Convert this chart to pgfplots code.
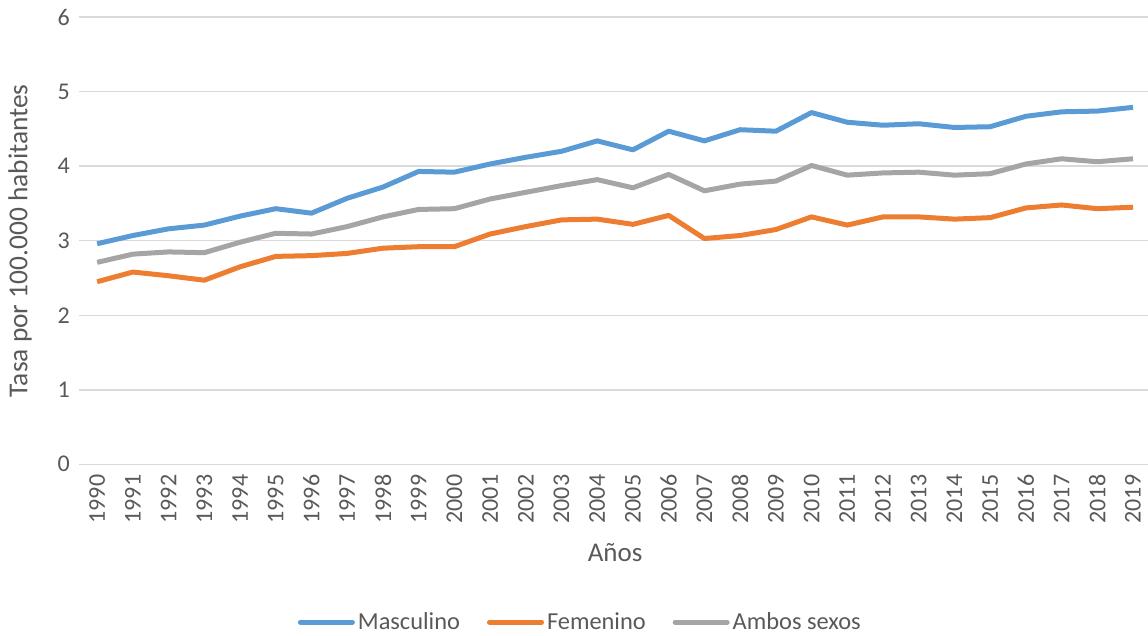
\documentclass[border=0pt]{standalone}
\usepackage{fontspec}
\setmainfont{Carlito}
\usepackage{pgfplots}
\pgfplotsset{compat=1.18}
\definecolor{cBlue}{HTML}{5B9BD5}
\definecolor{cOrange}{HTML}{ED7D31}
\definecolor{cGray}{HTML}{A5A5A5}
\definecolor{cText}{HTML}{595959}
\definecolor{cGrid}{HTML}{D9D9D9}
\begin{document}
\begin{tikzpicture}
\begin{axis}[
  name=ax,
  at={(0,0)}, anchor=south west,
  scale only axis,
  width=535.8pt, height=223.56pt,
  xmin=1989.5, xmax=2019.5,
  ymin=0, ymax=6,
  xtick={1990,1991,...,2019},
  ytick={0,1,...,6},
  xticklabel style={rotate=90, anchor=east, inner sep=0pt, font=\fontsize{12pt}{14pt}\selectfont, text=cText},
  yticklabel style={anchor=east, inner sep=0pt, font=\fontsize{12pt}{14pt}\selectfont, text=cText},
  xticklabel shift=5pt,
  yticklabel shift=4.5pt,
  /pgf/number format/assume math mode=true,
  /pgf/number format/set thousands separator={},
  major tick length=0pt,
  axis line style={draw=none},
  ymajorgrids,
  grid style={cGrid, line width=0.75pt},
  xlabel={Años},
  ylabel={Tasa por 100.000 habitantes},
  xlabel style={at={(axis description cs:0.5,-0.197)}, anchor=center, font=\fontsize{13.5pt}{16pt}\selectfont, text=cText},
  ylabel style={at={(axis description cs:-0.0552,0.5)}, anchor=center, font=\fontsize{13.7pt}{16pt}\selectfont, text=cText},
  legend columns=3,
  legend style={at={(axis description cs:0.468,-0.353)}, anchor=center, draw=none, fill=none,
    font=\fontsize{12.2pt}{14pt}\selectfont, text=cText,
    /tikz/every even column/.append style={column sep=12pt},
    nodes={inner sep=1.5pt},
    inner sep=0pt},
  legend image code/.code={\draw[#1, line cap=round, line width=2.5pt] (0pt,0pt) -- (26pt,0pt);},
  legend cell align=left,
]
\addplot[cBlue, line width=2.5pt, line join=round] coordinates {
(1990,2.96) (1991,3.07) (1992,3.16) (1993,3.21) (1994,3.33) (1995,3.43) (1996,3.37) (1997,3.57) (1998,3.72) (1999,3.93)
(2000,3.92) (2001,4.03) (2002,4.12) (2003,4.20) (2004,4.34) (2005,4.22) (2006,4.47) (2007,4.34) (2008,4.49) (2009,4.47)
(2010,4.72) (2011,4.59) (2012,4.55) (2013,4.57) (2014,4.52) (2015,4.53) (2016,4.67) (2017,4.73) (2018,4.74) (2019,4.79)
};
\addlegendentry{Masculino}
\addplot[cOrange, line width=2.5pt, line join=round] coordinates {
(1990,2.45) (1991,2.58) (1992,2.53) (1993,2.47) (1994,2.65) (1995,2.79) (1996,2.80) (1997,2.83) (1998,2.90) (1999,2.92)
(2000,2.92) (2001,3.09) (2002,3.19) (2003,3.28) (2004,3.29) (2005,3.22) (2006,3.34) (2007,3.03) (2008,3.07) (2009,3.15)
(2010,3.32) (2011,3.21) (2012,3.32) (2013,3.32) (2014,3.29) (2015,3.31) (2016,3.44) (2017,3.48) (2018,3.43) (2019,3.45)
};
\addlegendentry{Femenino}
\addplot[cGray, line width=2.5pt, line join=round] coordinates {
(1990,2.71) (1991,2.82) (1992,2.85) (1993,2.84) (1994,2.98) (1995,3.10) (1996,3.09) (1997,3.19) (1998,3.32) (1999,3.42)
(2000,3.43) (2001,3.56) (2002,3.65) (2003,3.74) (2004,3.82) (2005,3.71) (2006,3.89) (2007,3.67) (2008,3.76) (2009,3.80)
(2010,4.01) (2011,3.88) (2012,3.91) (2013,3.92) (2014,3.88) (2015,3.90) (2016,4.03) (2017,4.10) (2018,4.06) (2019,4.10)
};
\addlegendentry{Ambos sexos}
\end{axis}
\pgfresetboundingbox
\path ([shift={(-39.65pt,-85.85pt)}]ax.south west) rectangle ++(574pt,318pt);
\end{tikzpicture}
\end{document}
